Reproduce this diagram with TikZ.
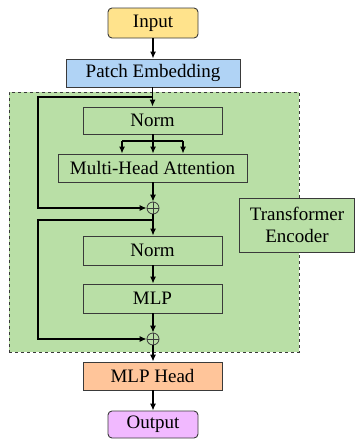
\documentclass[tikz,border=0pt]{standalone}
\usepackage{fontspec}
\setmainfont{Liberation Serif}
\usetikzlibrary{arrows.meta}
\definecolor{cIn}{HTML}{FFE38C}
\definecolor{cPE}{HTML}{B0D3F5}
\definecolor{cGr}{HTML}{B9DFA6}
\definecolor{cHd}{HTML}{FFC59A}
\definecolor{cOut}{HTML}{F1B9FF}
\definecolor{cBd}{HTML}{3A3A3A}
\tikzset{
  box/.style={draw=cBd, line width=0.9pt, inner sep=0pt, font=\fontsize{19}{22}\selectfont},
  rbox/.style={box, rounded corners=4pt},
  gbox/.style={box, fill=cGr, minimum width=139pt},
  con/.style={line width=1.2pt, -{Latex[length=7pt,width=6pt]}},
  lin/.style={line width=1.2pt},
  plus/.style={circle, draw=cBd, line width=0.8pt, minimum size=12pt, inner sep=0pt},
}
\begin{document}
\begin{tikzpicture}[x=1pt,y=-1pt]
\useasboundingbox (0,0) rectangle (355,439);
\node[draw=cBd, dashed, line width=0.8pt, fill=cGr, minimum width=290pt, minimum height=260pt, inner sep=0pt] (enc) at (154,222) {};
\node[rbox, fill=cIn, minimum width=90pt, minimum height=30pt] (in) at (153,23) {Input};
\node[box, fill=cPE, minimum width=174pt, minimum height=28pt] (pe) at (153,73) {Patch Embedding};
\node[gbox, minimum height=27pt] (n1) at (152.5,120.5) {Norm};
\node[gbox, minimum width=189pt, minimum height=28pt] (mha) at (152.5,168) {Multi-Head Attention};
\node[plus] (p1) at (153,208) {};
\draw[line width=0.8pt, cBd] (p1.north) -- (p1.south) (p1.west) -- (p1.east);
\node[gbox, minimum height=29pt] (n2) at (152.5,250.5) {Norm};
\node[gbox, minimum height=29pt] (mlp) at (152.5,298.5) {MLP};
\node[plus] (p2) at (153,339) {};
\draw[line width=0.8pt, cBd] (p2.north) -- (p2.south) (p2.west) -- (p2.east);
\node[box, fill=cHd, minimum width=139pt, minimum height=28pt] (hd) at (152.5,376) {MLP Head};
\node[rbox, fill=cOut, minimum width=90pt, minimum height=27pt] (out) at (153,424.5) {Output};
\node[box, fill=cGr, minimum width=115pt, minimum height=54pt, align=center] (te) at (297,225) {Transformer\\Encoder};
% connectors
\draw[con] (in) -- (pe);
\draw[con] (pe.south -| n1.north) -- (n1.north);
\coordinate (s1) at (153,97);
\draw[lin] (n1.south -| 153,0) -- (153,141) coordinate (br);
\draw[lin] (122,141) -- (183,141);
\draw[con] (br) -- (mha.north -| br);
\draw[con] (122,141) -- (mha.north -| 122,0);
\draw[con] (183,141) -- (mha.north -| 183,0);
\draw[con] (mha.south -| p1.north) -- (p1.north);
\draw[con] (s1) -- (38,97) -- (38,208) -- (p1.west);
\draw[con] (p1.south) -- (n2.north -| p1.south);
\coordinate (s2) at (153,220);
\draw[con] (s2) -- (38,220) -- (38,339) -- (p2.west);
\draw[con] (n2.south -| 153,0) -- (mlp.north -| 153,0);
\draw[con] (mlp.south -| p2.north) -- (p2.north);
\draw[con] (p2.south) -- (hd.north -| p2.south);
\draw[con] (hd.south -| out.north) -- (out.north);
\end{tikzpicture}
\end{document}
